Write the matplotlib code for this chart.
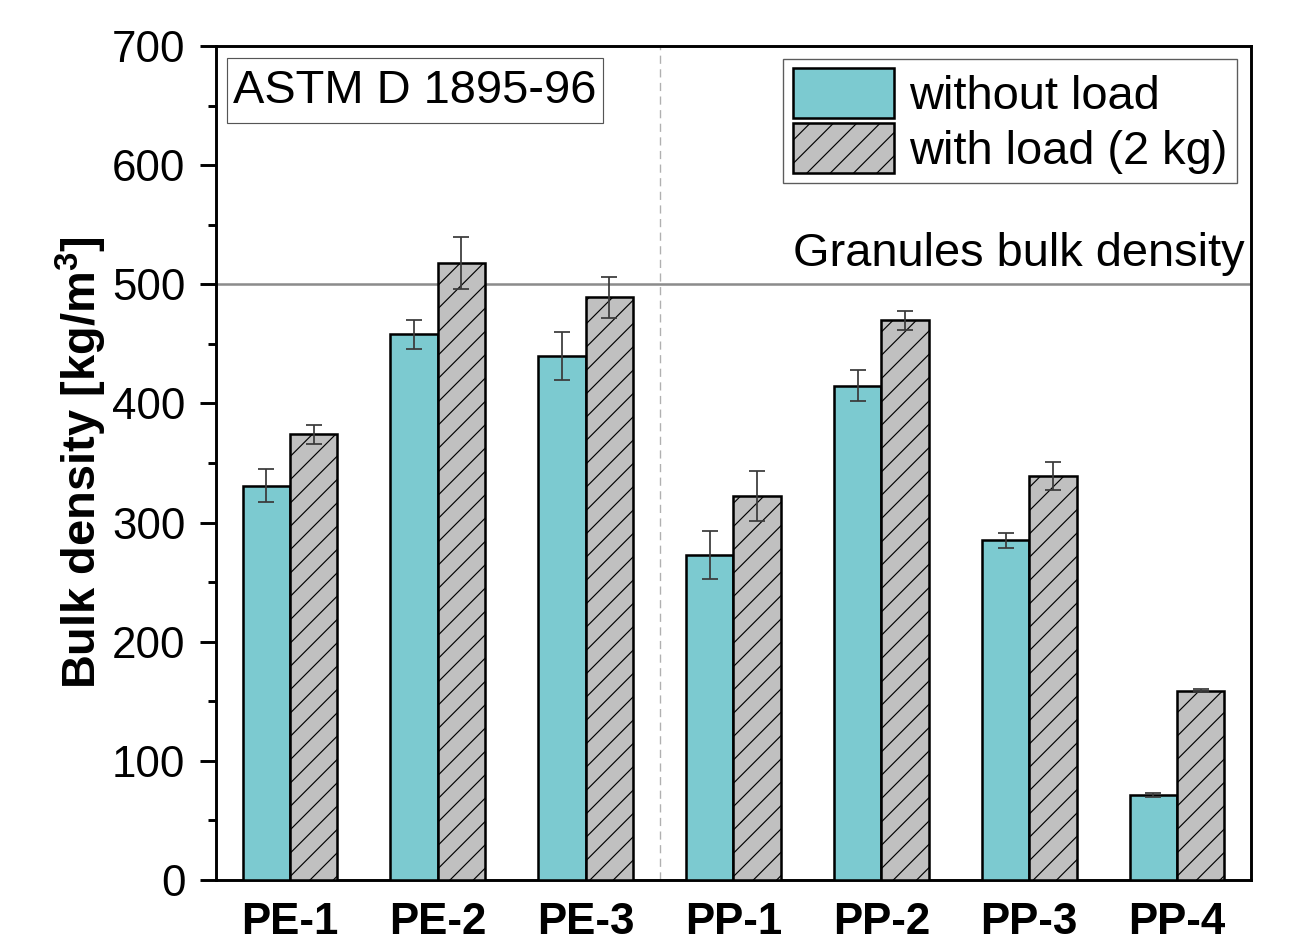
import numpy as np
import matplotlib
matplotlib.use("Agg")
import matplotlib.pyplot as plt
import matplotlib.transforms as mtransforms
from matplotlib.patches import Patch, Rectangle

DPI = 140
CYAN, GREY, LINE_GREY = "#7ccad0", "#c0c0c0", "#8c8c8c"

samples = ["PE-1", "PE-2", "PE-3", "PP-1", "PP-2", "PP-3", "PP-4"]
no_load = [331, 458, 440, 273, 415, 285, 71.5]
no_load_err = [14, 12, 20, 20, 13, 6, 1.5]
with_load = [374, 518, 489, 322, 470, 339, 159]
with_load_err = [8, 22, 17, 21, 8, 12, 1]
granules_density = 500

plt.rcParams["font.family"] = ["Liberation Sans", "DejaVu Sans"]
plt.rcParams["mathtext.fontset"] = "custom"
plt.rcParams["mathtext.bf"] = "Liberation Sans:bold"
plt.rcParams["mathtext.rm"] = "Liberation Sans"
plt.rcParams["hatch.linewidth"] = 0.6

fig = plt.figure(figsize=(1295 / DPI, 941 / DPI), dpi=DPI)
ax = fig.add_axes([0.1668, 0.0648, 0.966 - 0.1668, 0.9511 - 0.0648])

x = np.arange(len(samples))
w = 0.32
err_kw = dict(ecolor="#3a3a3a", elinewidth=0.9, capsize=3.9, capthick=0.9)
ax.bar(x - w / 2, no_load, w, yerr=no_load_err, color=CYAN, edgecolor="black",
       linewidth=1.3, error_kw=err_kw, zorder=3)
ax.bar(x + w / 2, with_load, w, yerr=with_load_err, color=GREY, edgecolor="black",
       linewidth=1.3, hatch="//", error_kw=err_kw, zorder=3)

ax.axhline(granules_density, color=LINE_GREY, lw=1.3, zorder=2)
ax.axvline(2.5, color="#b0b0b0", lw=0.7, ls=(0, (6, 4)), zorder=1)

trans = mtransforms.blended_transform_factory(ax.transAxes, ax.transData)
ax.text(0.9935, 515, "Granules bulk density", transform=trans, ha="right",
        va="baseline", fontsize=24.2)

# standard label box
ax.add_patch(Rectangle((0.0106, 0.9077), 0.3633, 0.0779, transform=ax.transAxes,
                       fc="white", ec="#555555", lw=0.6, zorder=4))
ax.text(0.0164, 0.9466, "ASTM D 1895-96", transform=ax.transAxes, ha="left",
        va="center", fontsize=24.2, zorder=5)

handles = [Patch(facecolor=CYAN, edgecolor="black", linewidth=1.3, label="without load"),
           Patch(facecolor=GREY, edgecolor="black", linewidth=1.3, hatch="//",
                 label="with load (2 kg)")]
leg = ax.legend(handles=handles, loc="upper right", bbox_to_anchor=(0.9865, 0.985),
                fontsize=24.2, frameon=True, fancybox=False, edgecolor="#333333",
                handlelength=2.15, handleheight=1.25, handletextpad=0.33,
                borderpad=0.2, labelspacing=0.1, borderaxespad=0.0)
leg.get_frame().set_linewidth(0.7)

ax.set_xlim(-0.5, 6.5)
ax.set_ylim(0, 700)
ax.set_xticks(x)
ax.set_xticklabels(samples, fontweight="bold")
ax.set_yticks(np.arange(0, 701, 100))
ax.set_yticks(np.arange(50, 700, 100), minor=True)
ax.tick_params(axis="x", length=0, pad=11.5, labelsize=22.6)
ax.tick_params(axis="y", which="major", direction="out", length=8.2, width=1.5,
               pad=7.5, labelsize=22.6)
ax.tick_params(axis="y", which="minor", direction="out", length=4, width=1.5)
ax.set_ylabel(r"Bulk density [kg/m$^\mathbf{3}$]", fontsize=24.2,
              fontweight="bold", labelpad=1.5)
for s in ax.spines.values():
    s.set_linewidth(1.5)

fig.savefig("out.png", dpi=DPI)
